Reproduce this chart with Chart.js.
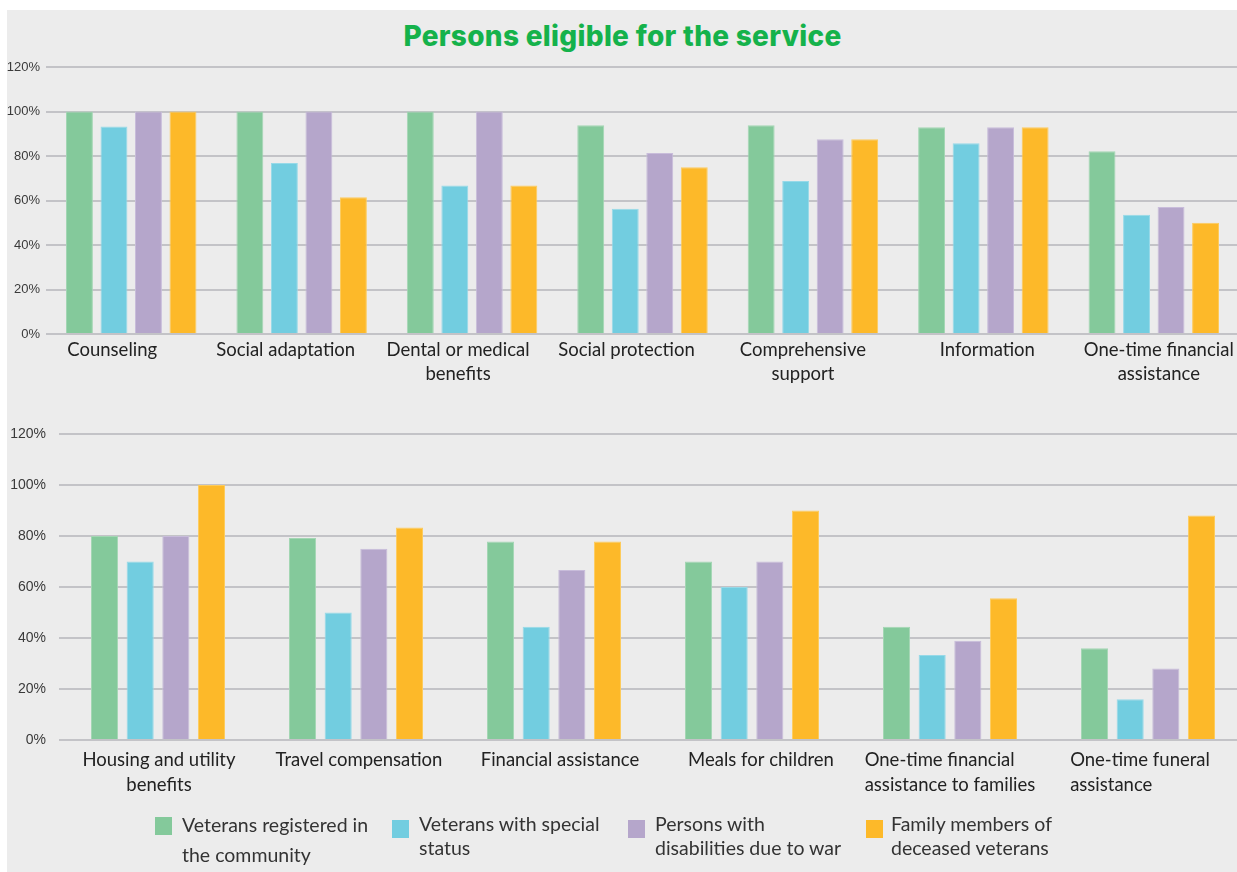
<!DOCTYPE html>
<html>
<head>
<meta charset="utf-8">
<title>Persons eligible for the service</title>
<script src="https://cdn.jsdelivr.net/npm/chart.js@4.4.1/dist/chart.umd.min.js"></script>
<style>
  html, body { margin: 0; padding: 0; width: 1237px; height: 872px; overflow: hidden; background: #fff; }
  #panel { position: absolute; left: 7px; top: 10px; width: 1230px; height: 862px; background: #ececec; }
  #title { position: absolute; left: 0; top: 19px; width: 1245px; text-align: center;
           font: 800 28px Inter, sans-serif; color: #15b24b; letter-spacing: 0.3px; }
  canvas { position: absolute; left: 0; }
  #topChart { top: 0; }
  #bottomChart { top: 400px; }
  .sw { position: absolute; width: 17px; height: 18px; }
  .lg { position: absolute; font: 19.5px Lato, sans-serif; color: #333; line-height: 24px; white-space: nowrap; }
</style>
</head>
<body>
<div id="panel"></div>
<div id="title">Persons eligible for the service</div>
<canvas id="topChart" width="1250" height="400"></canvas>
<canvas id="bottomChart" width="1250" height="420"></canvas>

<div class="sw" style="left:155px;top:817px;background:#84c99b"></div>
<div class="lg" style="left:182px;top:810px;line-height:30px">Veterans registered in<br>the community</div>
<div class="sw" style="left:392px;top:820px;background:#72cde0"></div>
<div class="lg" style="left:419px;top:812px">Veterans with special<br>status</div>
<div class="sw" style="left:628px;top:820px;background:#b5a6cb"></div>
<div class="lg" style="left:655px;top:812px">Persons with<br>disabilities due to war</div>
<div class="sw" style="left:866px;top:820px;background:#fdb929"></div>
<div class="lg" style="left:891px;top:812px">Family members of<br>deceased veterans</div>

<script>
// Services, upper row
const topCategories = [
  ['Counseling'],
  ['Social adaptation'],
  ['Dental or medical', 'benefits'],
  ['Social protection'],
  ['Comprehensive', 'support'],
  ['Information'],
  ['One-time financial', 'assistance']
];
const topVeterans = [100, 100, 100, 93.8, 93.8, 92.9, 82.1];
const topSpecial  = [93.3, 76.9, 66.7, 56.3, 68.8, 85.7, 53.6];
const topDisabled = [100, 100, 100, 81.3, 87.5, 92.9, 57.1];
const topFamily   = [100, 61.5, 66.7, 75, 87.5, 92.9, 50];

// Services, lower row
const bottomCategories = [
  ['Housing and utility', 'benefits'],
  ['Travel compensation'],
  ['Financial assistance'],
  ['Meals for children'],
  ['One-time financial', 'assistance to families'],
  ['One-time funeral', 'assistance']
];
const bottomVeterans = [80, 79.2, 77.8, 70, 44.4, 36];
const bottomSpecial  = [70, 50, 44.4, 60, 33.3, 16];
const bottomDisabled = [80, 75, 66.7, 70, 38.9, 28];
const bottomFamily   = [100, 83.3, 77.8, 90, 55.6, 88];

const yTicks = [0, 20, 40, 60, 80, 100, 120];

const groupNames = [
  'Veterans registered in the community',
  'Veterans with special status',
  'Persons with disabilities due to war',
  'Family members of deceased veterans'
];
const groupColors = ['#84c99b', '#72cde0', '#b5a6cb', '#fdb929'];
const groupEdges  = ['#a3d6b3', '#96d9e8', '#c8bcda', '#fdcb5c'];

// multi-line category labels drawn under the axis
const categoryLabels = {
  id: 'categoryLabels',
  afterDraw(chart, args, opts) {
    const { ctx, chartArea } = chart;
    const x = chart.scales.x;
    ctx.save();
    ctx.font = opts.font;
    ctx.fillStyle = opts.color;
    ctx.textBaseline = 'middle';
    chart.data.labels.forEach((lines, i) => {
      const cx = x.getPixelForTick(i) + (opts.shift[i] || 0);
      const w = Math.max(...lines.map(l => ctx.measureText(l).width));
      lines.forEach((line, j) => {
        const y = chartArea.bottom + opts.top + j * opts.lineHeight;
        if (opts.align[i] === 'left') {
          ctx.textAlign = 'left';
          ctx.fillText(line, cx - w / 2, y);
        } else {
          ctx.textAlign = 'center';
          ctx.fillText(line, cx, y);
        }
      });
    });
    ctx.restore();
  }
};

function makeDatasets(series, cfg) {
  return series.map((data, i) => ({
    label: groupNames[i],
    data: data,
    backgroundColor: groupColors[i],
    borderColor: groupEdges[i],
    borderWidth: 1,
    categoryPercentage: cfg.cat,
    barPercentage: cfg.bar
  }));
}

function buildChart(id, labels, series, cfg) {
  return new Chart(document.getElementById(id), {
    type: 'bar',
    data: { labels: labels, datasets: makeDatasets(series, cfg) },
    options: {
      responsive: false,
      animation: false,
      devicePixelRatio: 1,
      layout: { padding: cfg.padding },
      plugins: {
        legend: { display: false },
        tooltip: { enabled: false },
        categoryLabels: cfg.labels
      },
      scales: {
        x: {
          grid: { display: false, drawTicks: false },
          border: { display: false },
          ticks: { display: false }
        },
        y: {
          min: 0,
          max: 120,
          afterBuildTicks: scale => { scale.ticks = yTicks.map(v => ({ value: v })); },
          afterFit: scale => { scale.width = cfg.axisWidth; },
          grid: { color: '#c3c3c7', lineWidth: 2, drawTicks: false },
          border: { display: false },
          ticks: {
            padding: cfg.tickPad,
            color: '#3a3a3a',
            font: { family: 'Liberation Sans, Arial', size: cfg.tickSize },
            callback: v => v + '%'
          }
        }
      }
    },
    plugins: [categoryLabels]
  });
}

buildChart('topChart', topCategories, [topVeterans, topSpecial, topDisabled, topFamily], {
  cat: 0.81, bar: 0.78,
  padding: { top: 67, bottom: 66, left: 0, right: 11 },
  axisWidth: 46, tickPad: 6, tickSize: 13,
  labels: {
    font: '18.5px Lato', color: '#222', top: 16, lineHeight: 24,
    shift: [-19, -16, -14, -16, -10, 4, 5],
    align: []
  }
});

buildChart('bottomChart', bottomCategories, [bottomVeterans, bottomSpecial, bottomDisabled, bottomFamily], {
  cat: 0.72, bar: 0.76,
  padding: { top: 34, bottom: 80, left: 0, right: 3 },
  axisWidth: 59, tickPad: 13, tickSize: 14,
  labels: {
    font: '18.5px Lato', color: '#222', top: 20, lineHeight: 25,
    shift: [1, 3, 6, 9, 0, -8],
    align: ['center', 'center', 'center', 'center', 'left', 'left']
  }
});
</script>
</body>
</html>
